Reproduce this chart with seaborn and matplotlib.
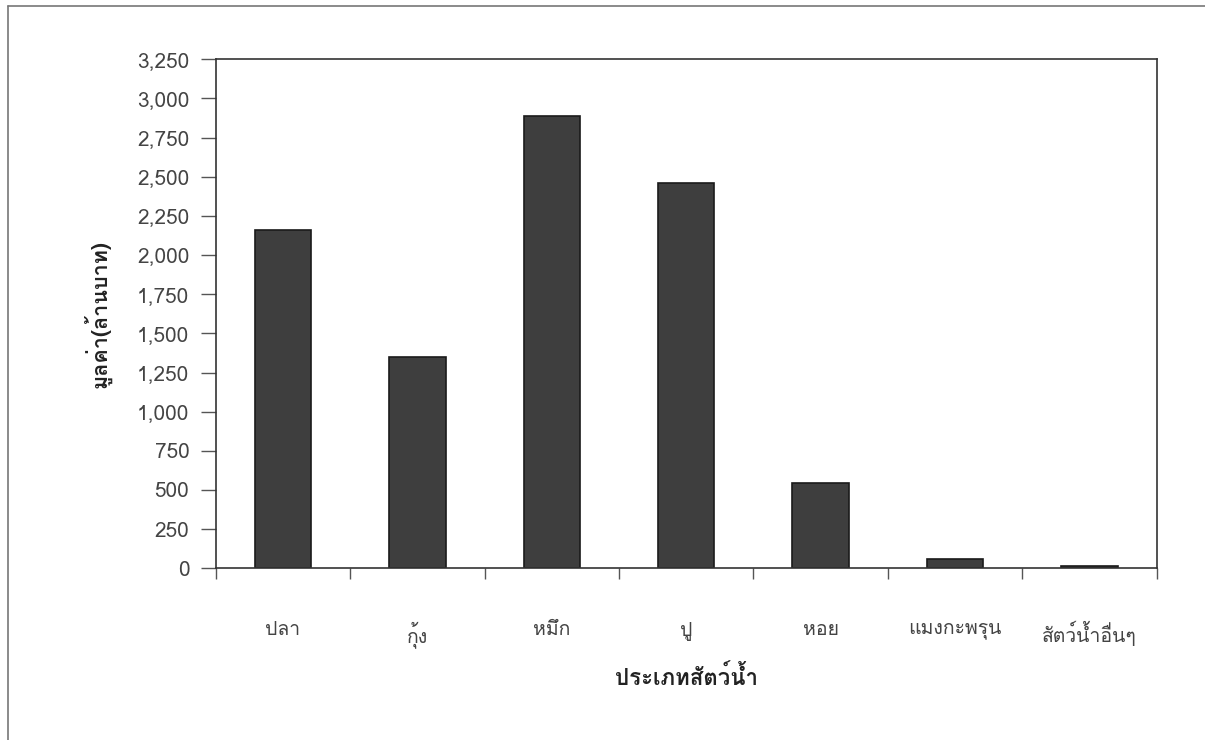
import matplotlib
matplotlib.use("Agg")
import matplotlib.pyplot as plt
from matplotlib import font_manager
from matplotlib.ticker import FuncFormatter, FixedLocator
from matplotlib.lines import Line2D
import seaborn as sns
import pandas as pd

# Data
categories = ['ปลา', 'กุ้ง', 'หมึก', 'ปู', 'หอย', 'แมงกะพรุน', 'สัตว์น้ำอื่นๆ']
values = [2160, 1350, 2890, 2460, 545, 58, 15]
y_ticks = list(range(0, 3251, 250))

x_title = 'ประเภทสัตว์น้ำ'
y_title = 'มูลค่า(ล้านบาท)'


# Find an installed font that has Thai glyphs
def find_thai_font():
    try:
        from fontTools.ttLib import TTFont
    except ImportError:
        return None
    for f in font_manager.fontManager.ttflist:
        try:
            tt = TTFont(f.fname, fontNumber=0, lazy=True)
            cmap = tt.getBestCmap()
            if cmap and 0x0E01 in cmap and 0x0E49 in cmap:
                return f.name
        except Exception:
            continue
    return None


sns.set_style('white')
thai = find_thai_font()
families = ([thai] if thai else []) + ['DejaVu Sans']
plt.rcParams['font.family'] = families

df = pd.DataFrame({'cat': categories, 'val': values})

fig = plt.figure(figsize=(12.05, 7.40), dpi=100)
ax = fig.add_axes([0.179, 0.232, 0.781, 0.688])

sns.barplot(data=df, x='cat', y='val', order=categories, color='#3e3e3e',
            width=0.42, edgecolor='#1a1a1a', linewidth=1.2, saturation=1, ax=ax)

ax.set_ylim(0, 3250)
ax.set_xlim(-0.5, len(categories) - 0.5)
ax.set_yticks(y_ticks)
ax.yaxis.set_major_formatter(FuncFormatter(lambda v, p: f'{int(v):,}'))

# category boundary ticks, labels centred between them
ax.xaxis.set_major_locator(FixedLocator([i - 0.5 for i in range(len(categories) + 1)]))
ax.xaxis.set_major_formatter(FuncFormatter(lambda v, p: ''))
ax.xaxis.set_minor_locator(FixedLocator(list(range(len(categories)))))
ax.set_xticklabels(categories, minor=True)
ax.tick_params(axis='x', which='minor', length=0, pad=38, labelsize=14, labelcolor='#444444')
ax.tick_params(axis='x', which='major', length=8, width=1, color='#555555', direction='out', bottom=True)
ax.tick_params(axis='y', length=11, width=1, color='#555555', direction='out', left=True,
               labelsize=15, labelcolor='#444444', pad=8)

for s in ax.spines.values():
    s.set_visible(True)
    s.set_color('#333333')
    s.set_linewidth(1.2)

ax.set_xlabel(x_title, fontsize=16, fontweight='bold', color='#222222', labelpad=12)
ax.set_ylabel(y_title, fontsize=15.5, fontweight='bold', color='#222222', labelpad=18)

# outer chart frame (top and left edges visible in the scan)
fig.add_artist(Line2D([0.0066, 1.0], [0.992, 0.992], transform=fig.transFigure, color='#777777', lw=1.2))
fig.add_artist(Line2D([0.0066, 0.0066], [0.0, 0.992], transform=fig.transFigure, color='#777777', lw=1.2))

fig.savefig('out.png', dpi=100)
